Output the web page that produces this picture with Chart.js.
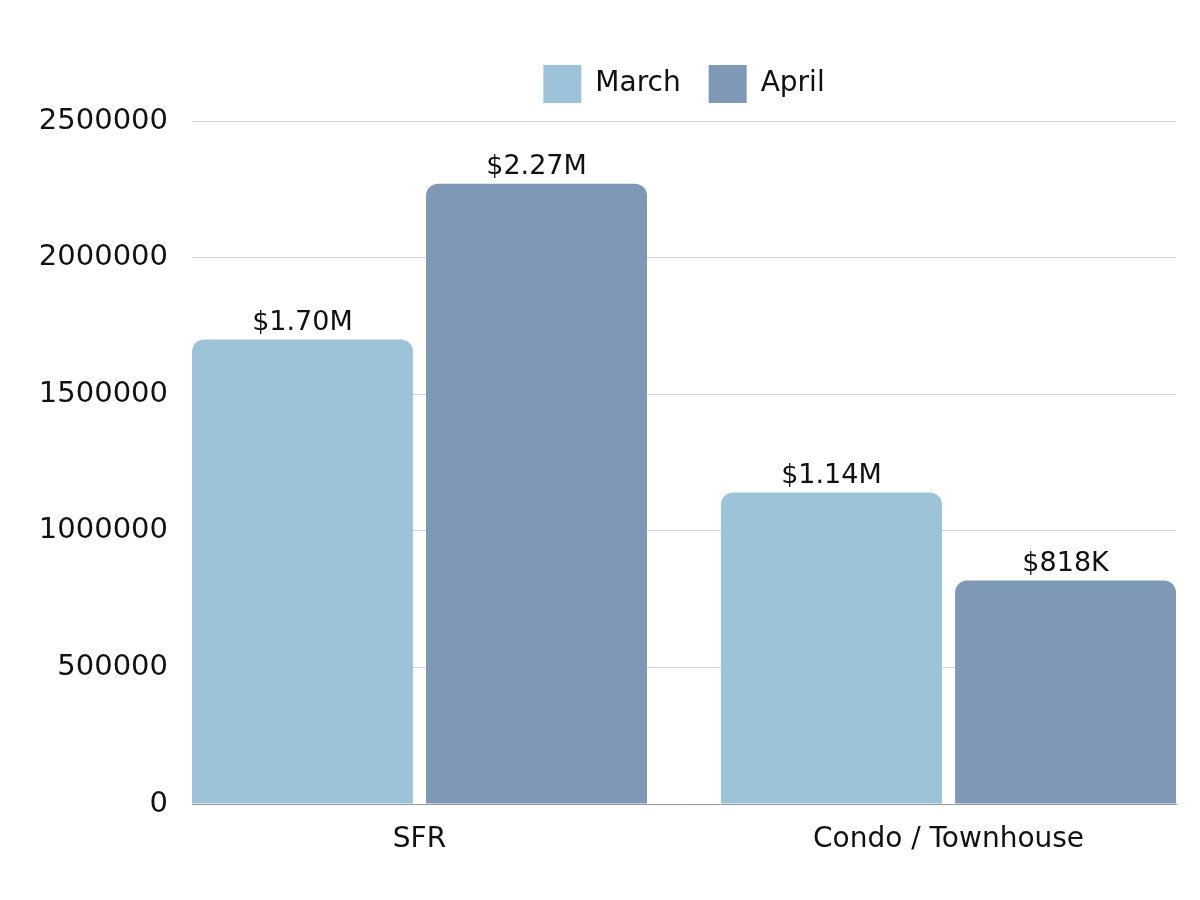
<!DOCTYPE html>
<html>
<head>
<meta charset="utf-8">
<script src="https://cdn.jsdelivr.net/npm/chart.js@4/dist/chart.umd.min.js"></script>
<style>
  html, body { margin: 0; padding: 0; background: #fff; }
  #wrap { width: 1200px; height: 900px; }
</style>
</head>
<body>
<div id="wrap"><canvas id="price-canvas"></canvas></div>
<script>
var categories = ["SFR", "Condo / Townhouse"];
var seriesNames = ["March", "April"];
var marchValues = [1700000, 1140000];
var aprilValues = [2270000, 818000];
var yTicks = [0, 500000, 1000000, 1500000, 2000000, 2500000];

var fontName = "'DejaVu Sans', 'Noto Sans', sans-serif";

function moneyLabel(v) {
  if (v >= 1000000) {
    return "$" + (v / 1000000).toFixed(2) + "M";
  }
  return "$" + Math.round(v / 1000) + "K";
}

function toPoints(values) {
  return values.map(function(v, i) {
    return { x: i, y: v };
  });
}

// writes the value above each bar
var barValueLabels = {
  id: "barValueLabels",
  afterDatasetsDraw: function(chart) {
    var ctx = chart.ctx;
    ctx.save();
    ctx.font = "27px " + fontName;
    ctx.fillStyle = "#111";
    ctx.textAlign = "center";
    ctx.textBaseline = "bottom";
    chart.data.datasets.forEach(function(ds, di) {
      var meta = chart.getDatasetMeta(di);
      meta.data.forEach(function(bar, i) {
        ctx.fillText(moneyLabel(ds.data[i].y), bar.x, bar.y - 3);
      });
    });
    ctx.restore();
  }
};

// more room between legend and plot
var legendHeightFix = {
  id: "legendHeightFix",
  beforeInit: function(chart) {
    var fit = chart.legend.fit;
    chart.legend.fit = function() {
      fit.call(this);
      this.height += 8;
    };
  }
};

var price_canvas = document.getElementById("price-canvas");
var myChart = new Chart(price_canvas, {
  type: "bar",
  data: {
    datasets: [
      {
        label: seriesNames[0],
        data: toPoints(marchValues),
        backgroundColor: "#9CC3D8",
        borderWidth: 0,
        borderRadius: { topLeft: 12, topRight: 12, bottomLeft: 0, bottomRight: 0 },
        borderSkipped: false,
        categoryPercentage: 0.885,
        barPercentage: 0.944
      },
      {
        label: seriesNames[1],
        data: toPoints(aprilValues),
        backgroundColor: "#7F98B5",
        borderWidth: 0,
        borderRadius: { topLeft: 12, topRight: 12, bottomLeft: 0, bottomRight: 0 },
        borderSkipped: false,
        categoryPercentage: 0.885,
        barPercentage: 0.944
      }
    ]
  },
  options: {
    responsive: true,
    maintainAspectRatio: false,
    animation: false,
    layout: {
      padding: { top: 37, right: 24, bottom: 0, left: 0 }
    },
    plugins: {
      legend: {
        position: "top",
        fullSize: false,
        labels: {
          boxWidth: 38,
          boxHeight: 38,
          padding: 28,
          color: "#111",
          font: { family: fontName, size: 28 }
        }
      },
      tooltip: { enabled: false }
    },
    scales: {
      x: {
        type: "linear",
        offset: false,
        min: -0.43,
        max: 1.43,
        grid: { display: false, offset: false },
        border: { display: true, color: "#9a9a9a", width: 1 },
        afterBuildTicks: function(scale) {
          scale.ticks = categories.map(function(c, i) {
            return { value: i };
          });
        },
        ticks: {
          padding: 11,
          color: "#111",
          font: { family: fontName, size: 28 },
          callback: function(v) {
            return categories[v];
          }
        },
        afterFit: function(scale) {
          scale.height = 96;
        }
      },
      y: {
        min: 0,
        max: 2500000,
        afterBuildTicks: function(scale) {
          scale.ticks = yTicks.map(function(v) {
            return { value: v };
          });
        },
        grid: { color: "#d4d4d4", drawTicks: false },
        border: { display: false },
        ticks: {
          padding: 24,
          color: "#111",
          font: { family: fontName, size: 29 },
          callback: function(v) {
            return String(v);
          }
        },
        afterFit: function(scale) {
          scale.width = 192;
        }
      }
    }
  },
  plugins: [barValueLabels, legendHeightFix]
});
</script>
</body>
</html>
